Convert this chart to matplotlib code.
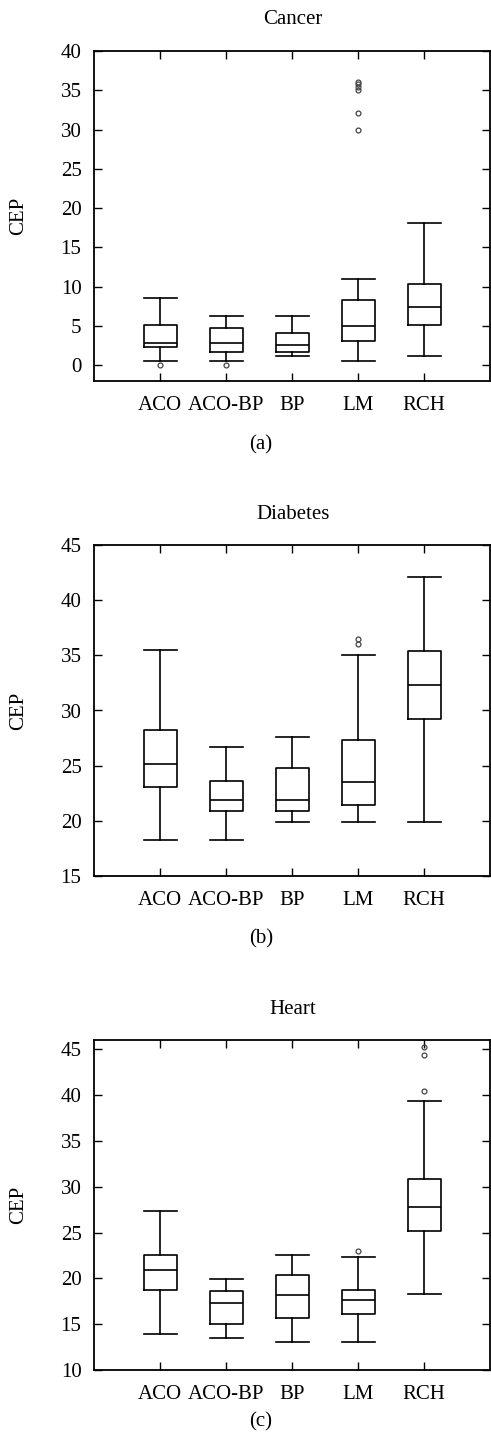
import matplotlib
matplotlib.use("Agg")
import matplotlib.pyplot as plt

plt.rcParams['font.family'] = ['Liberation Serif', 'DejaVu Serif']

methods = ["ACO", "ACO-BP", "BP", "LM", "RCH"]

# Cancer
cancer_whislo = [0.55, 0.55, 1.15, 0.55, 1.15]
cancer_q1 = [2.29, 1.70, 1.70, 3.10, 5.18]
cancer_med = [2.85, 2.85, 2.59, 5.00, 7.48]
cancer_q3 = [5.18, 4.76, 4.12, 8.28, 10.30]
cancer_whishi = [8.62, 6.28, 6.28, 11.00, 18.10]
cancer_fliers = [[0.0], [0.0], [], [36.1, 35.8, 35.4, 35.0, 32.1, 30.0], []]

# Diabetes
diab_whislo = [18.28, 18.28, 19.85, 19.85, 19.85]
diab_q1 = [23.05, 20.88, 20.88, 21.48, 29.20]
diab_med = [25.13, 21.93, 21.93, 23.53, 32.31]
diab_q3 = [28.24, 23.59, 24.80, 27.33, 35.41]
diab_whishi = [35.48, 26.70, 27.63, 35.00, 42.14]
diab_fliers = [[], [], [], [36.44, 36.0], []]

# Heart
heart_whislo = [13.89, 13.45, 13.01, 13.09, 18.25]
heart_q1 = [18.69, 15.05, 15.63, 16.14, 25.20]
heart_med = [20.87, 17.27, 18.22, 17.60, 27.82]
heart_q3 = [22.55, 18.66, 20.36, 18.69, 30.84]
heart_whishi = [27.35, 19.96, 22.55, 22.29, 39.32]
heart_fliers = [[], [], [], [22.98], [45.25, 44.35, 40.42]]

panels = [
    ("Cancer", "(a)", (cancer_whislo, cancer_q1, cancer_med, cancer_q3, cancer_whishi, cancer_fliers),
     (-2, 40), range(0, 41, 5), 381, 51, 445),
    ("Diabetes", "(b)", (diab_whislo, diab_q1, diab_med, diab_q3, diab_whishi, diab_fliers),
     (15, 45), range(15, 46, 5), 876, 545, 939),
    ("Heart", "(c)", (heart_whislo, heart_q1, heart_med, heart_q3, heart_whishi, heart_fliers),
     (10, 46), range(10, 46, 5), 1370, 1040, 1422),
]

W, H = 491, 1446
fig = plt.figure(figsize=(W / 100, H / 100), dpi=100)
fs = 15

for title, caption, (lo, q1, med, q3, hi, fl), ylim, yticks, bot, top, cap_y in panels:
    ax = fig.add_axes([94 / W, 1 - bot / H, 396 / W, (bot - top) / H])
    stats = []
    for i in range(len(methods)):
        stats.append(dict(whislo=lo[i], q1=q1[i], med=med[i], q3=q3[i],
                          whishi=hi[i], fliers=fl[i]))
    ax.bxp(stats, positions=range(1, 6), widths=0.5, capwidths=0.5,
           showfliers=True,
           boxprops=dict(color="black", linewidth=1.2),
           medianprops=dict(color="black", linewidth=1.2),
           whiskerprops=dict(color="black", linewidth=1.2),
           capprops=dict(color="black", linewidth=1.2),
           flierprops=dict(marker="o", markersize=3.5, markerfacecolor="none",
                           markeredgecolor="#444444", markeredgewidth=0.9))
    ax.set_xlim(0, 6)
    ax.set_ylim(*ylim)
    ax.set_yticks(list(yticks))
    ax.set_xticks(range(1, 6))
    ax.set_xticklabels(methods)
    ax.tick_params(direction="in", length=6, width=1.0, top=True, right=True,
                   labelsize=fs)
    ax.tick_params(axis="x", pad=11)
    ax.tick_params(axis="y", pad=9)
    for s in ax.spines.values():
        s.set_linewidth(1.3)
    fig.text(293 / W, 1 - (top - 31) / H, title, ha="center", va="center", fontsize=fs)
    fig.text(261 / W, 1 - cap_y / H, caption, ha="center", va="center", fontsize=fs)
    fig.text(19 / W, 1 - (top + bot) / 2 / H, "CEP", ha="center", va="center",
             rotation=90, fontsize=fs)

fig.savefig("out.png", dpi=100)
